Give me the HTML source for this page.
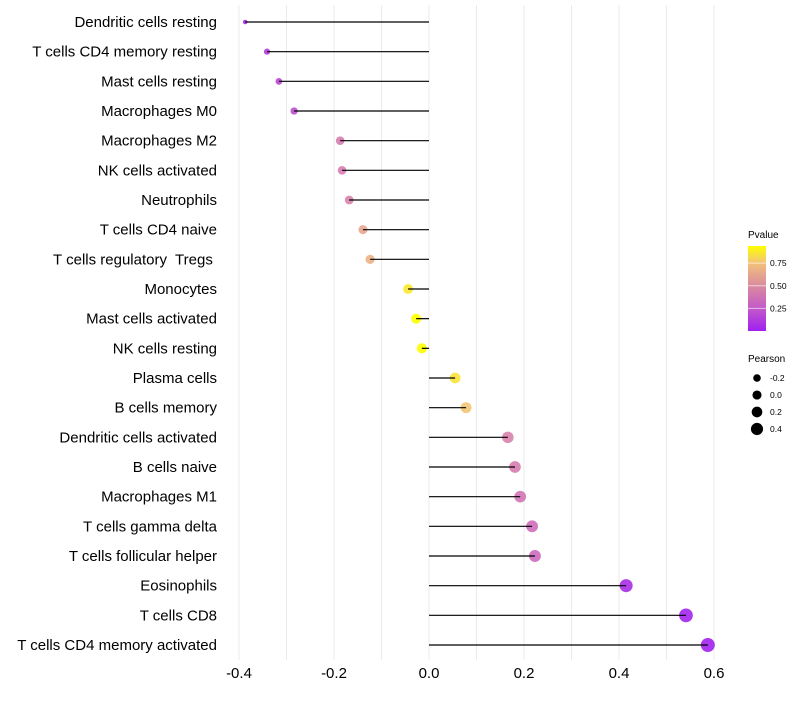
<!DOCTYPE html>
<html><head><meta charset="utf-8"><style>
body{margin:0;background:#fff;font-family:"Liberation Sans",sans-serif}
text{white-space:pre}
</style></head><body>
<svg id="c" width="800" height="700" xmlns="http://www.w3.org/2000/svg">
<defs><linearGradient id="pg" x1="0" y1="1" x2="0" y2="0">
<stop offset="0" stop-color="#A020F0"/><stop offset="0.27" stop-color="#C45AC8"/><stop offset="0.53" stop-color="#D98AA0"/><stop offset="0.8" stop-color="#F2C27A"/><stop offset="1" stop-color="#FFFF00"/></linearGradient></defs>
</svg>
<script>
const cells=["Dendritic cells resting","T cells CD4 memory resting","Mast cells resting","Macrophages M0","Macrophages M2","NK cells activated","Neutrophils","T cells CD4 naive","T cells regulatory  Tregs ","Monocytes","Mast cells activated","NK cells resting","Plasma cells","B cells memory","Dendritic cells activated","B cells naive","Macrophages M1","T cells gamma delta","T cells follicular helper","Eosinophils","T cells CD8","T cells CD4 memory activated"];
const pearson=[-0.387,-0.341,-0.316,-0.284,-0.187,-0.183,-0.168,-0.139,-0.124,-0.044,-0.027,-0.015,0.055,0.078,0.166,0.181,0.192,0.217,0.223,0.415,0.541,0.587];
const pvalue=[0.05,0.12,0.17,0.2,0.42,0.42,0.45,0.62,0.68,0.87,0.95,0.98,0.85,0.76,0.45,0.42,0.38,0.35,0.33,0.06,0.02,0.01];
const xTicks=[-0.4,-0.2,0.0,0.2,0.4,0.6];
const xGrid=[-0.4,-0.3,-0.2,-0.1,0,0.1,0.2,0.3,0.4,0.5,0.6];
const legP=[0.75,0.5,0.25];
const legS=[-0.2,0.0,0.2,0.4];
const svg=document.getElementById('c');const NS='http://www.w3.org/2000/svg';
const X=v=>429+v*475;
const Y=i=>22+i*(623/21);
const R=v=>2+5*Math.sqrt(Math.max(0,(v+0.39)/0.98));
const stops=[[0,[160,32,240]],[0.27,[196,90,200]],[0.53,[222,140,165]],[0.8,[242,194,122]],[1,[255,255,0]]];
function col(p){p=Math.min(0.94,Math.max(0,p))/0.94;for(let k=1;k<stops.length;k++){if(p<=stops[k][0]){const a=stops[k-1],b=stops[k],t=(p-a[0])/(b[0]-a[0]);return 'rgb('+a[1].map((c,j)=>Math.round(c+(b[1][j]-c)*t)).join(',')+')';}}return 'rgb(255,255,0)';}
function el(t,a,txt){const e=document.createElementNS(NS,t);for(const k in a)e.setAttribute(k,a[k]);if(txt!==undefined)e.textContent=txt;svg.appendChild(e);return e;}
xGrid.forEach(v=>{const g=el('line',{x1:X(v),x2:X(v),y1:5,y2:660,stroke:'#ebebeb','stroke-width':1});

});
xTicks.forEach(v=>{const t=el('text',{x:X(v),y:678,'text-anchor':'middle','font-size':15,fill:'#000'},v.toFixed(1));

});
cells.forEach((c,i)=>{
const y=Y(i);
const lb=el('text',{x:217,y:y+5,'text-anchor':'end','font-size':15,fill:'#000'},c);


const d=el('circle',{cx:X(pearson[i]),cy:y,r:R(pearson[i]),fill:col(pvalue[i]),'fill-opacity':0.9});


const s=el('line',{x1:X(0),x2:X(pearson[i]),y1:y,y2:y,stroke:'#000','stroke-width':1.2});


});
const lt=el('text',{x:748,y:238,'font-size':10},'Pvalue');


const cb=el('rect',{x:748,y:246,width:18,height:85,fill:'url(#pg)'});


legP.forEach(p=>{const y=331-(p/0.94)*85;
const tk=el('line',{x1:748,x2:766,y1:y,y2:y,stroke:'#fff','stroke-opacity':0.6});


const t=el('text',{x:770,y:y+3,'font-size':8.5},p.toFixed(2));

});
const st=el('text',{x:748,y:362,'font-size':10},'Pearson');


legS.forEach((v,k)=>{const y=378+k*17;
const c=el('circle',{cx:757,cy:y,r:3.8+(v+0.2)*3.8,fill:'#000'});


const t=el('text',{x:770,y:y+3,'font-size':8.5},v.toFixed(1));

});
</script>
</body></html>
